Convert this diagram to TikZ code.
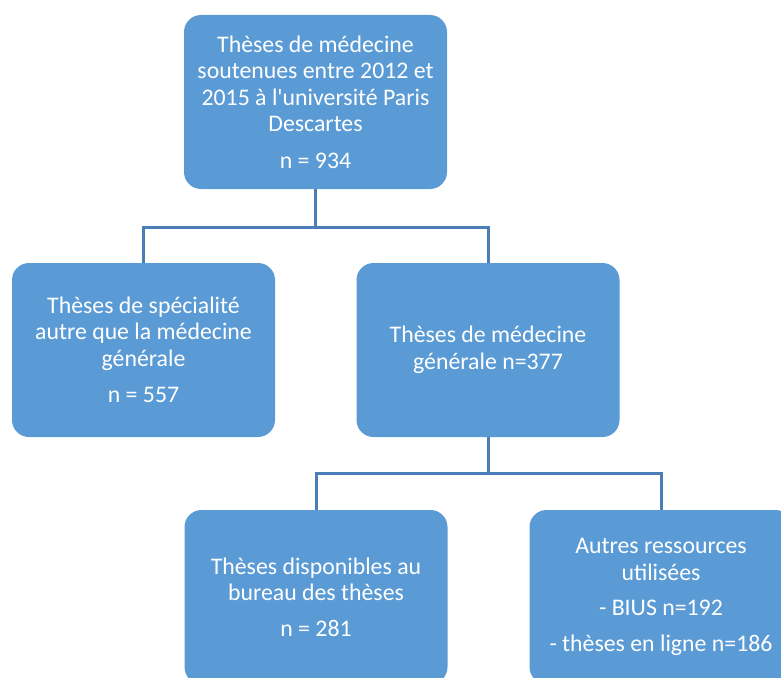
\documentclass[tikz,border=0pt]{standalone}
\usepackage{fontspec}
\setmainfont[Ligatures=TeXOff]{Carlito}
\usetikzlibrary{positioning,calc}

\definecolor{boxblue}{RGB}{91,155,213}
\definecolor{linkblue}{RGB}{74,126,182}

\begin{document}
\begin{tikzpicture}[
    x=1pt, y=-1pt,
    box/.style={rectangle, fill=boxblue, text=white, align=center, rounded corners=17pt, minimum width=263pt, minimum height=174pt, inner sep=0pt, font=\fontsize{23.8}{26.5}\selectfont},
    link/.style={draw=linkblue, line width=3pt}
]
\useasboundingbox (0,0) rectangle (781,677);
\clip (0,0) rectangle (781,677);

% Top level
\node[box] (root) at (315.5, 102) {Thèses de médecine\\soutenues entre 2012 et\\2015 à l'université Paris\\Descartes\\[10pt]n = 934};

% Second level
\node[box] (spec) at (143.5, 350) {Thèses de spécialité\\autre que la médecine\\générale\\[10pt]n = 557};
\node[box] (mg) at (488, 350) {Thèses de médecine\\générale n=377};

% Third level
\node[box] (bureau) at (316, 597) {Thèses disponibles au\\bureau des thèses\\[9pt]n = 281};
\node[box] (autres) at (661, 597) {Autres ressources\\utilisées\\[9pt]- BIUS n=192\\[9pt]- thèses en ligne n=186};

% Connectors
\draw[link] (root.south) -- ++(0,38) -| (spec.north);
\draw[link] (root.south) -- ++(0,38) -| (mg.north);
\draw[link] (mg.south) -- ++(0,36) -| (bureau.north);
\draw[link] (mg.south) -- ++(0,36) -| (autres.north);

\end{tikzpicture}
\end{document}
